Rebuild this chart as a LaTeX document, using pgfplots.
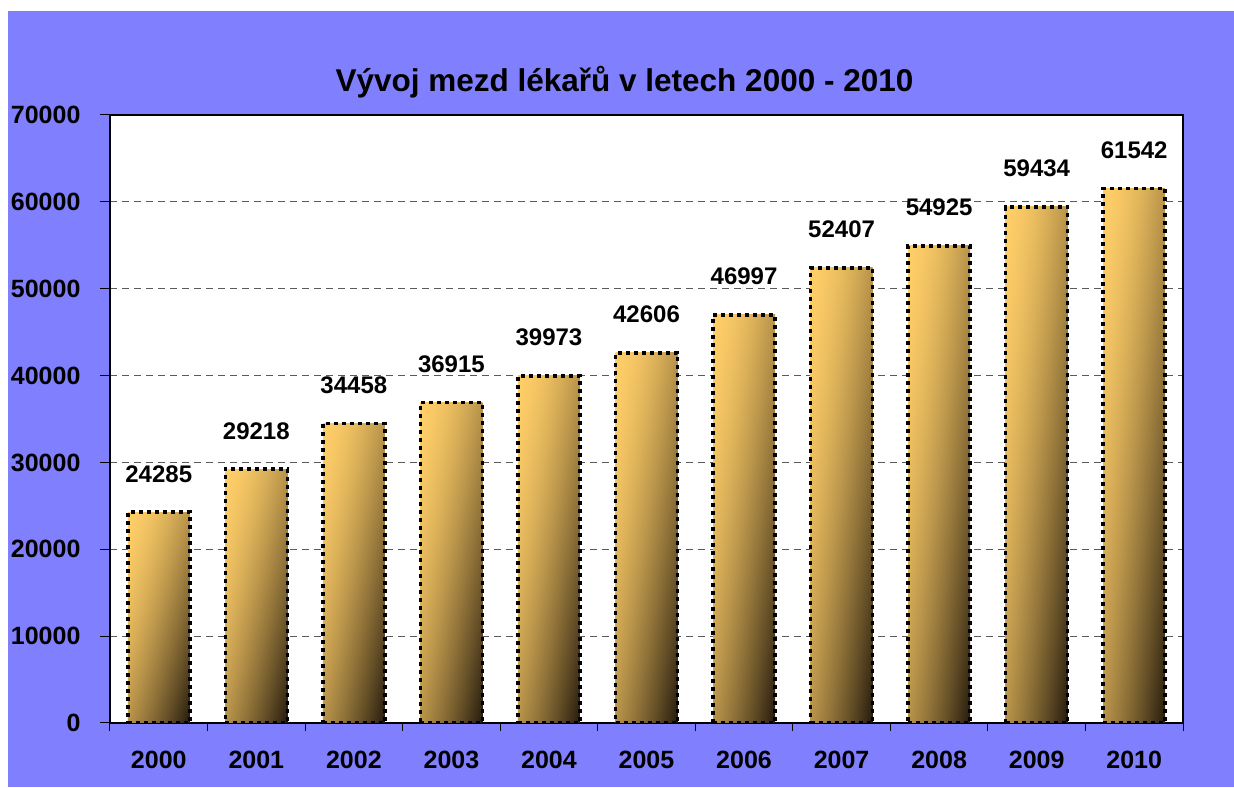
\documentclass[border=0pt]{standalone}
\usepackage{fontspec}
\setmainfont{Liberation Sans}
\usepackage{pgfplots}
\pgfplotsset{compat=1.18}
\definecolor{bgblue}{RGB}{128,128,255}
\definecolor{gridgray}{RGB}{90,90,90}
% diagonal gradient: light at the top left corner of each bar, dark at the bottom right
\pgfdeclarefunctionalshading{barshade}{\pgfpoint{0bp}{0bp}}{\pgfpoint{100bp}{100bp}}{}{
  sub 50 add 100 div
  dup 0 lt {pop 0} if
  dup 1 gt {pop 1} if
  1.6 exp
  dup dup
  -0.361 mul 0.408 add
  3 1 roll
  -0.706 mul 0.808 add
  3 1 roll
  -0.859 mul 1.0 add
  3 1 roll
}
\pgfplotsset{
  mybar/.style={ybar, bar width=62pt, bar shift=0pt, draw=black, line width=3.5pt,
    dash pattern=on 4pt off 4pt, shade, shading=barshade}
}
\begin{document}
\begin{tikzpicture}[x=1pt,y=1pt]
\fill[white] (0,0) rectangle (1234,787);
\fill[bgblue] (8,0) rectangle (1234,776);
\node[font=\bfseries\fontsize{31.5}{31.5}\selectfont] at (624.5,705) {Vývoj mezd lékařů v letech 2000 - 2010};
\begin{axis}[
  at={(110pt,64pt)}, anchor=south west,
  scale only axis, width=1073pt, height=608pt,
  xmin=-0.5, xmax=10.5, ymin=0, ymax=70000,
  ytick={0,10000,...,70000},
  scaled y ticks=false,
  /pgf/number format/1000 sep={},
  /pgf/number format/assume math mode=true,
  xtick={0,...,10},
  xticklabels={2000,2001,2002,2003,2004,2005,2006,2007,2008,2009,2010},
  minor xtick={-0.5,0.5,...,10.5},
  tick align=outside, tick pos=left,
  major tick length=10pt, minor tick length=8pt,
  major x tick style={draw=none},
  every tick/.style={black, line width=1pt},
  minor tick style={black, line width=1pt},
  ymajorgrids,
  major grid style={gridgray, line width=0.8pt, dash pattern=on 7pt off 5pt},
  axis line style={black, line width=1.2pt},
  axis background/.style={fill=white},
  ticklabel style={font=\bfseries\fontsize{25}{25}\selectfont},
  yticklabel style={xshift=-16pt},
  xticklabel style={yshift=-15pt},
  nodes near coords={\pgfmathprintnumber[fixed,precision=0,1000 sep={}]{\pgfplotspointmeta}},
  every node near coord/.append style={font=\bfseries\fontsize{24}{24}\selectfont, inner sep=0pt, anchor=south, yshift=28pt, black},
]
\addplot[mybar] coordinates {(0,24285)};
\addplot[mybar] coordinates {(1,29218)};
\addplot[mybar] coordinates {(2,34458)};
\addplot[mybar] coordinates {(3,36915)};
\addplot[mybar] coordinates {(4,39973)};
\addplot[mybar] coordinates {(5,42606)};
\addplot[mybar] coordinates {(6,46997)};
\addplot[mybar] coordinates {(7,52407)};
\addplot[mybar] coordinates {(8,54925)};
\addplot[mybar] coordinates {(9,59434)};
\addplot[mybar] coordinates {(10,61542)};
\end{axis}
\end{tikzpicture}
\end{document}
